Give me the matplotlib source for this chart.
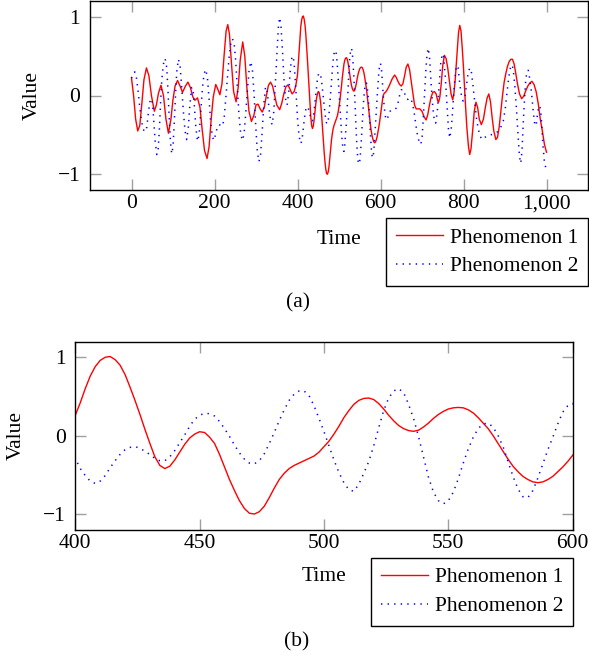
import matplotlib.pyplot as plt
from matplotlib.ticker import FuncFormatter

# --- style: pgfplots-like look ---
plt.rcParams.update({
    "font.family": ["Liberation Serif", "DejaVu Serif"],
    "font.size": 15.5,
    "axes.linewidth": 1.0,
})

RED = "#ff0000"
BLUE = "#0000ff"
TICK_GREY = "#a0a0a0"

# --- data ---
red_pts = [
    (0, 0.22), (5, 0.0), (10, -0.3), (15, -0.45), (20, -0.38), (25, -0.1), (30, 0.2), (36, 0.35),
    (42, 0.25), (48, 0.0), (55, -0.2), (60, -0.12), (65, 0.03), (71, 0.13), (77, 0.0), (83, -0.3),
    (89, -0.48), (95, -0.3), (100, -0.05), (105, 0.12), (111, 0.19), (117, 0.12), (123, 0.04),
    (130, 0.12), (136, 0.17), (142, 0.1), (148, -0.02), (153, -0.06), (159, -0.03), (165, -0.15),
    (170, -0.42), (176, -0.7), (182, -0.8), (187, -0.65), (192, -0.3), (197, -0.02), (203, 0.14),
    (208, 0.08), (213, 0.01), (218, 0.15), (223, 0.5), (228, 0.82), (232, 0.9), (236, 0.78),
    (241, 0.4), (246, 0.05), (252, -0.08), (257, 0.1), (262, 0.45), (268, 0.68), (273, 0.5),
    (278, 0.1), (283, -0.2), (289, -0.33), (295, -0.25), (300, -0.12), (305, -0.11), (310, -0.17),
    (315, -0.21), (320, -0.15), (325, 0.0), (330, 0.13), (335, 0.17), (340, 0.12), (345, 0.0),
    (350, -0.12), (357, -0.18), (362, -0.1), (367, 0.02), (372, 0.11), (377, 0.135), (382, 0.08),
    (387, 0.02), (392, 0.05), (396, 0.13),
    (400, 0.26), (402, 0.42), (404, 0.6), (406, 0.76), (408, 0.88), (410, 0.96), (412, 1.0),
    (414, 1.01), (416, 0.97), (418, 0.9), (420, 0.78), (422, 0.62), (424, 0.45), (426, 0.27),
    (428, 0.08), (430, -0.1), (432, -0.27), (434, -0.38), (436, -0.42), (438, -0.39), (440, -0.31),
    (442, -0.21), (444, -0.11), (446, -0.03), (448, 0.02), (450, 0.05), (452, 0.04), (454, -0.02),
    (456, -0.1), (458, -0.24), (460, -0.4), (462, -0.56), (464, -0.7), (466, -0.83), (468, -0.93),
    (470, -0.99), (472, -1.0), (474, -0.97), (476, -0.9), (478, -0.79), (480, -0.67), (482, -0.56),
    (484, -0.48), (486, -0.42), (488, -0.38), (490, -0.35), (492, -0.32), (494, -0.29), (496, -0.26),
    (498, -0.21), (500, -0.14), (502, -0.07), (504, 0.02), (506, 0.12), (508, 0.23), (510, 0.32),
    (512, 0.4), (514, 0.45), (516, 0.475), (518, 0.48), (520, 0.46), (522, 0.41), (524, 0.34),
    (526, 0.26), (528, 0.19), (530, 0.13), (532, 0.09), (534, 0.065), (536, 0.055), (538, 0.07),
    (540, 0.11), (542, 0.16), (544, 0.22), (546, 0.27), (548, 0.31), (550, 0.34), (552, 0.355),
    (554, 0.36), (556, 0.355), (558, 0.33), (560, 0.29), (562, 0.23), (564, 0.16), (566, 0.09),
    (568, 0.0), (570, -0.1), (572, -0.2), (574, -0.3), (576, -0.39), (578, -0.46), (580, -0.52),
    (582, -0.56), (584, -0.59), (586, -0.6), (588, -0.59), (590, -0.56), (592, -0.52), (594, -0.46),
    (596, -0.4), (598, -0.33), (600, -0.25),
    (603, -0.12), (606, -0.01), (609, 0.03), (612, 0.04), (617, 0.08), (622, 0.135), (628, 0.21),
    (634, 0.26), (638, 0.23), (642, 0.18), (646, 0.14), (650, 0.12), (654, 0.15), (658, 0.25),
    (662, 0.36), (666, 0.4), (670, 0.33), (674, 0.18), (678, 0.02), (682, -0.12), (686, -0.17),
    (690, -0.17), (695, -0.17), (700, -0.2), (705, -0.27), (710, -0.31), (714, -0.24), (718, -0.12),
    (722, -0.02), (726, 0.04), (730, 0.05), (734, 0.02), (738, -0.07), (740, -0.085), (743, -0.02),
    (746, 0.13), (750, 0.38), (754, 0.51), (758, 0.47), (762, 0.35), (766, 0.18), (770, 0.02),
    (774, -0.055), (777, 0.03), (780, 0.2), (784, 0.5), (788, 0.8), (791, 0.89), (794, 0.82),
    (797, 0.6), (800, 0.35), (804, -0.05), (808, -0.4), (812, -0.65), (815, -0.75), (818, -0.68),
    (822, -0.45), (826, -0.2), (830, -0.085), (834, -0.15), (838, -0.3), (843, -0.37), (848, -0.3),
    (853, -0.14), (857, -0.03), (861, 0.02), (865, -0.08), (869, -0.28), (873, -0.45), (878, -0.56),
    (882, -0.53), (886, -0.4), (890, -0.2), (894, 0.0), (898, 0.17), (902, 0.28), (906, 0.37),
    (910, 0.43), (914, 0.46), (918, 0.46), (922, 0.4), (926, 0.28), (930, 0.15), (935, 0.02),
    (940, -0.04), (945, -0.01), (950, 0.06), (955, 0.12), (960, 0.16), (965, 0.18), (970, 0.14),
    (975, 0.05), (980, -0.1), (985, -0.3), (990, -0.45), (995, -0.62), (1000, -0.72),
]

blue_pts = [
    (0, 0.22), (4, 0.28), (8, 0.3), (12, 0.22), (16, 0.05), (20, -0.15), (24, -0.32), (28, -0.43),
    (33, -0.46), (37, -0.4), (41, -0.2), (45, -0.06), (48, -0.04), (51, -0.12), (54, -0.35),
    (57, -0.58), (61, -0.75), (64, -0.7), (67, -0.45), (70, -0.1), (73, 0.2), (77, 0.4), (81, 0.47),
    (85, 0.35), (88, 0.05), (91, -0.3), (94, -0.6), (97, -0.74), (100, -0.65), (103, -0.35),
    (106, 0.0), (109, 0.3), (113, 0.46), (117, 0.38), (121, 0.1), (125, -0.2), (129, -0.45),
    (133, -0.56), (137, -0.4), (141, -0.1), (145, 0.1), (148, 0.1), (151, -0.1), (155, -0.4),
    (159, -0.58), (163, -0.5), (167, -0.2), (171, 0.1), (175, 0.28), (179, 0.33), (183, 0.22),
    (187, -0.05), (191, -0.35), (195, -0.53), (199, -0.57),
    (203, -0.48), (207, -0.4), (211, -0.37), (215, -0.38), (219, -0.39), (223, -0.3), (227, -0.05),
    (231, 0.22), (235, 0.48), (239, 0.65), (243, 0.72), (247, 0.68), (251, 0.45), (255, 0.1),
    (259, -0.25), (263, -0.48), (267, -0.57), (271, -0.5), (275, -0.25), (279, 0.05), (283, 0.3),
    (287, 0.43), (291, 0.35), (295, 0.05), (299, -0.35), (303, -0.7), (307, -0.84), (311, -0.75),
    (315, -0.45), (319, -0.1), (323, 0.11), (327, 0.05), (331, -0.15), (335, -0.32), (339, -0.37),
    (343, -0.2), (347, 0.2), (351, 0.6), (354, 0.88), (357, 0.99), (360, 0.9), (364, 0.55),
    (368, 0.15), (372, -0.08), (375, -0.12), (379, 0.05), (383, 0.35), (387, 0.5), (390, 0.48),
    (392, 0.4), (396, 0.08),
    (400, -0.29), (402, -0.42), (404, -0.51), (406, -0.58), (408, -0.61), (410, -0.58), (412, -0.51),
    (414, -0.41), (416, -0.32), (418, -0.24), (420, -0.18), (422, -0.15), (424, -0.14), (426, -0.16),
    (428, -0.2), (430, -0.24), (432, -0.29), (434, -0.32), (436, -0.32), (438, -0.27), (440, -0.19),
    (442, -0.09), (444, 0.01), (446, 0.12), (448, 0.21), (450, 0.26), (452, 0.285), (454, 0.28),
    (456, 0.25), (458, 0.18), (460, 0.09), (462, -0.01), (464, -0.12), (466, -0.22), (468, -0.3),
    (470, -0.35), (472, -0.36), (474, -0.32), (476, -0.23), (478, -0.1), (480, 0.04), (482, 0.19),
    (484, 0.33), (486, 0.45), (488, 0.53), (490, 0.57), (492, 0.57), (494, 0.51), (496, 0.38),
    (498, 0.22), (500, 0.05), (502, -0.13), (504, -0.31), (506, -0.47), (508, -0.6), (510, -0.69),
    (512, -0.71), (514, -0.62), (516, -0.48), (518, -0.33), (520, -0.13), (522, 0.1), (524, 0.32),
    (526, 0.48), (528, 0.57), (530, 0.6), (532, 0.55), (534, 0.4), (536, 0.22), (538, -0.01),
    (540, -0.27), (542, -0.53), (544, -0.72), (546, -0.83), (548, -0.87), (550, -0.83), (552, -0.72),
    (554, -0.55), (556, -0.35), (558, -0.17), (560, -0.02), (562, 0.09), (564, 0.15), (566, 0.16),
    (568, 0.11), (570, 0.0), (572, -0.14), (574, -0.33), (576, -0.52), (578, -0.68), (580, -0.78),
    (582, -0.79), (584, -0.7), (586, -0.54), (588, -0.36), (590, -0.18), (592, -0.02), (594, 0.15),
    (596, 0.3), (598, 0.38), (600, 0.41),
    (603, 0.3), (606, 0.05), (609, -0.15), (612, -0.27), (615, -0.31), (619, -0.26), (623, -0.2),
    (628, -0.18), (633, -0.18), (638, -0.16), (642, -0.1), (646, 0.0), (650, 0.07), (654, 0.08),
    (658, 0.03), (662, -0.04), (666, -0.05), (670, -0.03), (674, -0.05), (678, -0.12), (682, -0.25),
    (686, -0.4), (690, -0.53), (694, -0.6), (697, -0.62), (700, -0.55), (703, -0.3), (706, 0.0),
    (709, 0.3), (712, 0.52), (715, 0.6), (718, 0.5), (722, 0.15), (726, -0.15), (730, -0.33),
    (733, -0.35), (737, -0.2), (741, 0.1), (745, 0.4), (749, 0.53), (752, 0.5), (756, 0.25),
    (760, -0.1), (764, -0.45), (767, -0.54), (771, -0.4), (775, -0.1), (779, 0.2), (783, 0.38),
    (787, 0.35), (791, 0.15), (795, 0.0), (799, -0.07), (803, -0.03), (807, 0.12), (811, 0.28),
    (815, 0.35), (819, 0.3), (823, 0.12), (827, -0.08), (831, -0.28), (835, -0.41), (840, -0.52),
    (846, -0.56), (852, -0.53), (859, -0.51), (866, -0.5), (872, -0.49), (878, -0.48), (884, -0.45),
    (890, -0.4), (896, -0.32), (901, -0.15), (905, 0.05), (909, 0.23), (913, 0.35), (917, 0.39),
    (920, 0.33), (924, 0.1), (928, -0.2), (932, -0.55), (935, -0.78), (938, -0.86), (941, -0.7),
    (944, -0.35), (947, -0.05), (950, 0.2), (953, 0.31), (956, 0.32), (960, 0.2), (964, 0.03),
    (968, -0.2), (972, -0.38), (975, -0.38), (978, -0.25), (981, -0.15), (984, -0.13), (987, -0.25),
    (991, -0.6), (995, -0.85), (1000, -0.95),
]

series_labels = ["Phenomenon 1", "Phenomenon 2"]
top_xticks = [0, 200, 400, 600, 800, 1000]
bottom_xticks = [400, 450, 500, 550, 600]
yticks = [-1, 0, 1]

red_t, red_v = zip(*red_pts)
blue_t, blue_v = zip(*blue_pts)

W, H = 589, 660
fig = plt.figure(figsize=(W / 100, H / 100), dpi=100)


def axes_px(left, top, right, bottom):
    return fig.add_axes([left / W, 1 - bottom / H, (right - left) / W, (bottom - top) / H])


def draw_panel(ax, xlim, xticks, height_px, label_dy, value_dx, width_px):
    ax.plot(red_t, red_v, color=RED, lw=1.0, label=series_labels[0])
    ax.plot(blue_t, blue_v, color=BLUE, lw=1.1, linestyle=(0, (0.9, 3.4)),
            label=series_labels[1])
    ax.set_xlim(*xlim)
    ax.set_ylim(-1.2, 1.2)
    ax.set_xticks(xticks)
    ax.set_yticks(yticks)
    ax.xaxis.set_major_formatter(FuncFormatter(lambda v, p: f"{int(v):,}"))
    ax.tick_params(direction="in", length=8, width=1.0, color=TICK_GREY,
                   top=True, right=True, labelcolor="black")
    ax.tick_params(axis="x", pad=3)
    ax.tick_params(axis="y", pad=7)

    ax.set_xlabel("Time", va="center")
    ax.xaxis.set_label_coords(0.5, -label_dy / height_px)
    ax.set_ylabel("Value", va="center")
    ax.yaxis.set_label_coords(-value_dx / width_px, 0.5)

    leg = ax.legend(loc="upper right", bbox_to_anchor=(1.0, -28 / height_px),
                    borderaxespad=0, fancybox=False, framealpha=1,
                    edgecolor="black", handlelength=2.2, handletextpad=0.3,
                    labelspacing=0.4, borderpad=0.45)
    leg.get_frame().set_linewidth(1.0)


ax1 = axes_px(90, 1, 588, 190)
draw_panel(ax1, (-100, 1100), top_xticks, 189, 50, 58, 498)

ax2 = axes_px(75.3, 341.6, 572.7, 529.7)
draw_panel(ax2, (400, 600), bottom_xticks, 188.1, 47, 58.6, 497.4)

fig.text(298 / W, 1 - 303 / H, "(a)", ha="center", va="center")
fig.text(297 / W, 1 - 642 / H, "(b)", ha="center", va="center")

fig.savefig("out.png", dpi=100)
